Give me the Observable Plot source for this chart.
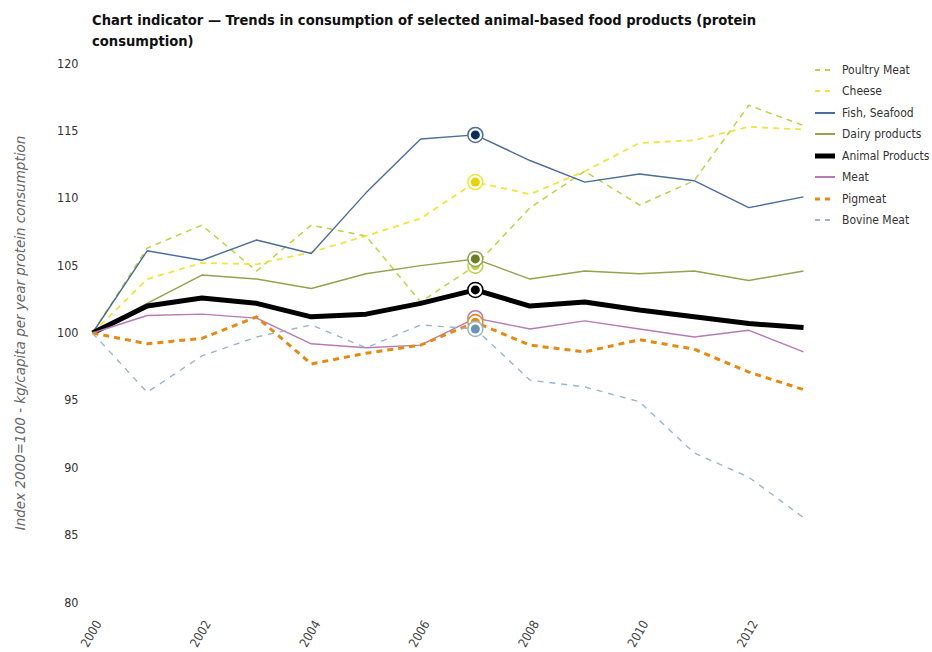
<!DOCTYPE html>
<html>
<head>
<meta charset="utf-8">
<script src="https://cdn.jsdelivr.net/npm/d3@7"></script>
<script src="https://cdn.jsdelivr.net/npm/@observablehq/plot@0.6"></script>
<style>
  html, body { margin: 0; padding: 0; background: #fff; }
  body { width: 932px; height: 652px; position: relative; overflow: hidden; font-family: "DejaVu Sans Condensed", "DejaVu Sans", sans-serif; }
  #title { position: absolute; left: 92px; top: 9px; width: 720px; font-weight: bold; font-size: 14.6px; line-height: 21px; color: #111; }
  #chart { position: absolute; left: 0; top: 50px; }
  #legend { position: absolute; left: 815px; top: 59px; font-size: 12px; color: #333; }
  .item { height: 21.5px; display: flex; align-items: center; }
  .item svg { margin-right: 7px; }
</style>
</head>
<body>
<div id="title">Chart indicator — Trends in consumption of selected animal-based food products (protein consumption)</div>
<div id="chart"></div>
<div id="legend"></div>
<script>
const years = [2000, 2001, 2002, 2003, 2004, 2005, 2006, 2007, 2008, 2009, 2010, 2011, 2012, 2013];
const seriesNames = ["Poultry Meat", "Cheese", "Fish, Seafood", "Dairy products", "Animal Products", "Meat", "Pigmeat", "Bovine Meat"];
const poultry = [100, 106.3, 108.0, 104.6, 108.0, 107.2, 102.3, 105.0, 109.3, 112.0, 109.5, 111.3, 116.9, 115.4];
const cheese  = [100, 104.0, 105.2, 105.1, 106.0, 107.2, 108.5, 111.2, 110.3, 112.0, 114.1, 114.3, 115.3, 115.1];
const fish    = [100, 106.1, 105.4, 106.9, 105.9, 110.4, 114.4, 114.7, 112.8, 111.2, 111.8, 111.3, 109.3, 110.1];
const dairy   = [100, 102.2, 104.3, 104.0, 103.3, 104.4, 105.0, 105.5, 104.0, 104.6, 104.4, 104.6, 103.9, 104.6];
const animal  = [100, 102.0, 102.6, 102.2, 101.2, 101.4, 102.2, 103.2, 102.0, 102.3, 101.7, 101.2, 100.7, 100.4];
const meat    = [100, 101.3, 101.4, 101.1, 99.2, 98.9, 99.1, 101.1, 100.3, 100.9, 100.3, 99.7, 100.2, 98.6];
const pigmeat = [100, 99.2, 99.6, 101.2, 97.7, 98.5, 99.1, 100.8, 99.1, 98.6, 99.5, 98.8, 97.1, 95.8];
const bovine  = [100, 95.6, 98.3, 99.7, 100.6, 98.9, 100.6, 100.3, 96.5, 96.0, 94.9, 91.1, 89.3, 86.3];
const yTicks = [80, 85, 90, 95, 100, 105, 110, 115, 120];
const xTicks = [2000, 2002, 2004, 2006, 2008, 2010, 2012];
const yTitle = "Index 2000=100 - kg/capita per year protein consumption";
const highlightYear = 2007;

const seriesValues = [poultry, cheese, fish, dairy, animal, meat, pigmeat, bovine];
const colors  = ["#bfd145", "#f2e43a", "#4b6c9c", "#93a34e", "#000000", "#b67ab6", "#e8890e", "#9ab5cc"];
const inner   = ["#bfd145", "#e6d400", "#0d2c5e", "#6b7d22", "#000000", "#b67ab6", "#e8890e", "#6a94b6"];
const widths  = [1.5, 1.8, 1.4, 1.5, 5, 1.4, 3, 1.4];
const dashes  = ["6,5", "6,5", null, null, null, null, "6,5", "6,6"];

const rows = [];
seriesNames.forEach((s, i) => years.forEach((y, j) => rows.push({series: s, year: y, value: seriesValues[i][j]})));

const marks = [];
seriesNames.forEach((s, i) => {
  marks.push(Plot.line(rows.filter(d => d.series === s), {
    x: "year", y: "value", stroke: colors[i], strokeWidth: widths[i],
    strokeDasharray: dashes[i] || undefined, strokeLinejoin: "round", strokeLinecap: "butt"
  }));
});
seriesNames.forEach((s, i) => {
  const pt = rows.filter(d => d.series === s && d.year === highlightYear);
  marks.push(Plot.dot(pt, {x: "year", y: "value", r: 7.5, fill: "white", stroke: colors[i], strokeWidth: 1.5}));
  marks.push(Plot.dot(pt, {x: "year", y: "value", r: 4.5, fill: inner[i]}));
});

const chart = Plot.plot({
  width: 932,
  height: 602,
  marginLeft: 92,
  marginRight: 129,
  marginTop: 13,
  marginBottom: 50,
  style: {fontFamily: '"DejaVu Sans Condensed", "DejaVu Sans", sans-serif', fontSize: "12.5px", color: "#333", background: "white"},
  x: {domain: [2000, 2013], label: null},
  y: {domain: [80, 120], label: null},
  marks: [
    Plot.axisX({ticks: xTicks, tickFormat: d => String(d), tickRotate: -60, tickSize: 0, tickPadding: 19, dx: 6, label: null, fill: "#444"}),
    Plot.axisY({ticks: yTicks, tickSize: 0, tickPadding: 14, label: null}),
    Plot.text([yTitle], {frameAnchor: "left", textAnchor: "middle", rotate: -90, dx: -72, text: d => d, fontStyle: "italic", fill: "#666", fontSize: 13.5, fontFamily: '"DejaVu Sans", sans-serif'}),
    ...marks
  ]
});
document.getElementById("chart").appendChild(chart);

const legend = document.getElementById("legend");
seriesNames.forEach((s, i) => {
  const div = document.createElement("div");
  div.className = "item";
  div.innerHTML = `<svg width="20" height="8"><line x1="0" x2="20" y1="4" y2="4" stroke="${colors[i]}" stroke-width="${i === 4 ? 5 : (i === 6 ? 3 : 2)}" ${dashes[i] ? 'stroke-dasharray="5,5"' : ''}/></svg><span>${s}</span>`;
  legend.appendChild(div);
});
</script>
</body>
</html>
